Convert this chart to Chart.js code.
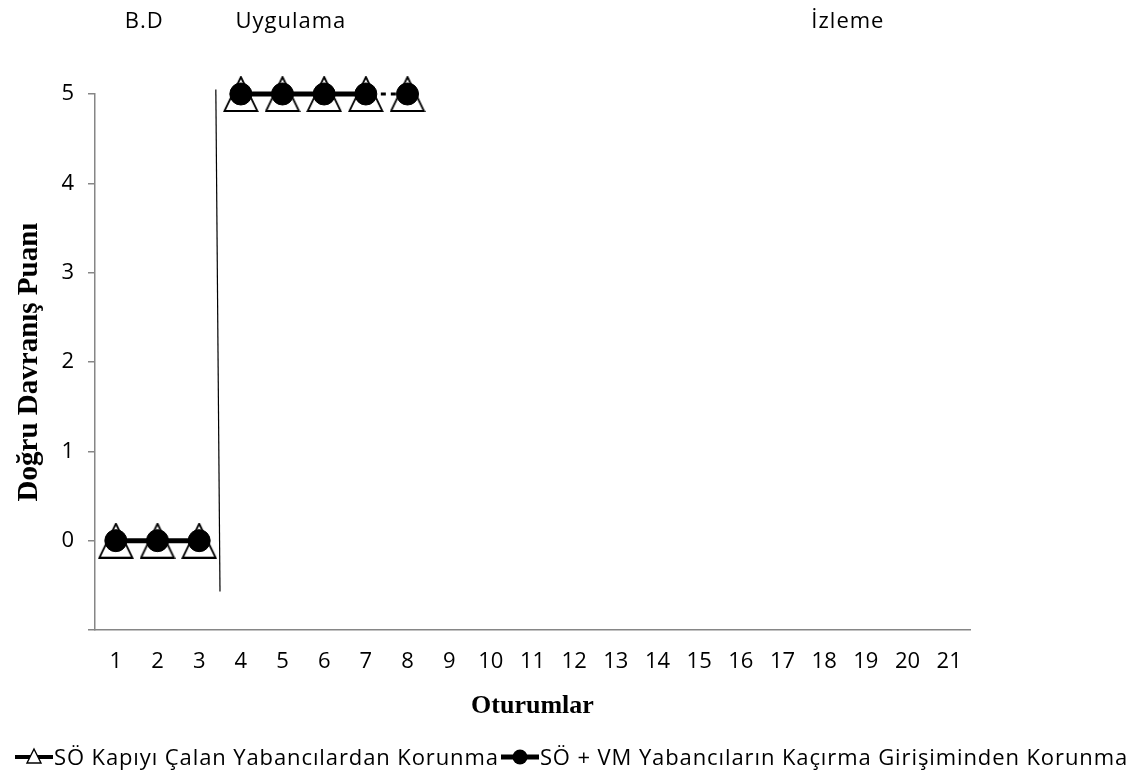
<!DOCTYPE html>
<html lang="tr">
<head>
<meta charset="UTF-8">
<title>Doğru Davranış Puanı</title>
<style>
    * { margin: 0; padding: 0; box-sizing: border-box; }
    body { background: #fff; width: 1143px; height: 780px; overflow: hidden; font-family: "Open Sans", sans-serif; }
    .wrap { position: relative; width: 1143px; height: 780px; }
    #chart { position: absolute; left: 0; top: 0; }
    .legend { position: absolute; left: -10px; top: 741px; width: 1163px; display: flex; justify-content: center; align-items: center; white-space: nowrap; font-size: 22px; letter-spacing: 0.9px; color: #000; }
    .legend .item { display: flex; align-items: center; }
    .legend svg { display: block; margin-right: 1px; }
</style>
<script src="https://cdn.jsdelivr.net/npm/chart.js"></script>
</head>
<body>
<div class="wrap">
    <canvas id="chart" width="1143" height="780"></canvas>
    <div class="legend" id="legend"></div>
</div>

<script>
// Données
const sessions = ['1','2','3','4','5','6','7','8','9','10','11','12','13','14','15','16','17','18','19','20','21'];
const kapiyiCalan = [0, 0, 0, 5, 5, 5, 5, 5, null, null, null, null, null, null, null, null, null, null, null, null, null];
const kacirmaGirisimi = [0, 0, 0, 5, 5, 5, 5, 5, null, null, null, null, null, null, null, null, null, null, null, null, null];
const seriesNames = ['SÖ Kapıyı Çalan Yabancılardan Korunma', 'SÖ + VM Yabancıların Kaçırma Girişiminden Korunma'];
const yTicks = [0, 1, 2, 3, 4, 5];
const phaseNames = ['B.D', 'Uygulama', 'İzleme'];

const FONT = '"Open Sans", sans-serif';
const SERIF = '"Liberation Serif", "Times New Roman", serif';
const GREY = '#868686';

// triangle blanc (style Excel)
function makeTriangle(size, lw) {
    const c = document.createElement('canvas');
    c.width = size; c.height = size;
    const ctx = c.getContext('2d');
    ctx.beginPath();
    ctx.moveTo(size / 2, 1);
    ctx.lineTo(size - 1.5, size - 1);
    ctx.lineTo(1.5, size - 1);
    ctx.closePath();
    ctx.fillStyle = '#fff';
    ctx.fill();
    ctx.lineWidth = lw;
    ctx.strokeStyle = '#000';
    ctx.stroke();
    return c;
}
const triangleImg = makeTriangle(36, 1.8);

// pas de ligne entre les phases
const phaseBreak = 2;
const hideSeg = (idx) => (ctx) => idx.includes(ctx.p0DataIndex) ? 'rgba(0,0,0,0)' : undefined;

const phasePlugin = {
    id: 'phases',
    afterDatasetsDraw(chart) {
        const { ctx, scales: { x, y } } = chart;
        ctx.save();
        // ligne de changement de phase
        const xTop = x.getPixelForValue(phaseBreak + 0.4);
        const xBot = x.getPixelForValue(phaseBreak + 0.5);
        ctx.strokeStyle = '#000';
        ctx.lineWidth = 1.2;
        ctx.beginPath();
        ctx.moveTo(xTop, y.getPixelForValue(5.05));
        ctx.lineTo(xBot, y.getPixelForValue(-0.57));
        ctx.stroke();
        // titres des phases
        const pos = [0.68, 4.2, 17.57];
        ctx.fillStyle = '#000';
        ctx.font = '22px ' + FONT;
        ctx.letterSpacing = '1px';
        ctx.textAlign = 'center';
        ctx.textBaseline = 'middle';
        phaseNames.forEach((p, i) => ctx.fillText(p, x.getPixelForValue(pos[i]), 22));
        ctx.restore();
    }
};

new Chart(document.getElementById('chart'), {
    type: 'line',
    data: {
        labels: sessions,
        datasets: [
            {
                label: seriesNames[0],
                data: kapiyiCalan,
                borderColor: '#000',
                borderWidth: 3,
                borderDash: [5, 5],
                pointStyle: triangleImg,
                pointRadius: 18,
                clip: false,
                order: 2,
                segment: { borderColor: hideSeg([phaseBreak]) }
            },
            {
                label: seriesNames[1],
                data: kacirmaGirisimi,
                borderColor: '#000',
                backgroundColor: '#000',
                borderWidth: 5,
                pointStyle: 'circle',
                pointRadius: 11,
                pointBorderWidth: 1,
                clip: false,
                order: 1,
                segment: { borderColor: hideSeg([phaseBreak, 6]) }
            }
        ]
    },
    options: {
        responsive: false,
        animation: false,
        events: [],
        layout: { padding: { top: 94, right: 173, bottom: 58, left: 0 } },
        plugins: { legend: { display: false }, tooltip: { enabled: false } },
        scales: {
            x: {
                type: 'category',
                offset: true,
                grid: { display: false, drawTicks: false },
                border: { display: true, color: GREY, width: 1.5 },
                ticks: { color: '#000', font: { family: FONT, size: 22 }, padding: 19, maxRotation: 0, autoSkip: false },
                title: { display: true, text: 'Oturumlar', color: '#000', font: { family: SERIF, size: 26, weight: 'bold' }, padding: 0 },
                afterFit(s) { s.height = 92; }
            },
            y: {
                min: -1,
                max: 5,
                afterBuildTicks(s) { s.ticks = [-1].concat(yTicks).map(v => ({ value: v })); },
                grid: { drawOnChartArea: false, color: GREY, tickLength: 7, lineWidth: 1.5 },
                border: { display: true, color: GREY, width: 1.5 },
                ticks: { color: '#000', font: { family: FONT, size: 22 }, padding: 14, callback: v => v < 0 ? '' : v },
                title: { display: true, text: 'Doğru Davranış Puanı', color: '#000', font: { family: SERIF, size: 29, weight: 'bold' }, padding: { top: 12, bottom: 0 } },
                afterFit(s) { s.width = 95; }
            }
        }
    },
    plugins: [phasePlugin]
});

// Légende
const legend = document.getElementById('legend');
const icons = [
    '<svg width="38" height="22"><line x1="0" y1="12" x2="38" y2="12" stroke="#000" stroke-width="4"/><path d="M19 4 L26 18 L12 18 Z" fill="#fff" stroke="#000" stroke-width="1.4"/></svg>',
    '<svg width="38" height="22"><line x1="0" y1="12" x2="38" y2="12" stroke="#000" stroke-width="5"/><circle cx="19" cy="12" r="7.5" fill="#000"/></svg>'
];
seriesNames.forEach((n, i) => {
    const it = document.createElement('div');
    it.className = 'item';
    it.innerHTML = icons[i] + '<span>' + n + '</span>';
    if (i > 0) it.style.marginLeft = '2px';
    legend.appendChild(it);
});
</script>
</body>
</html>
